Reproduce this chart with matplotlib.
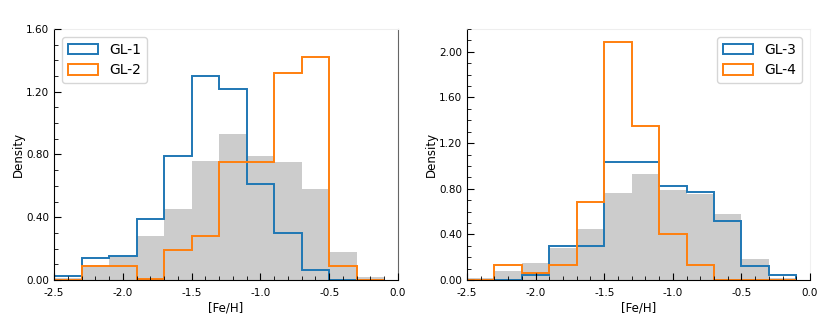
import numpy as np
import matplotlib
matplotlib.use('Agg')
import matplotlib.pyplot as plt
from matplotlib.ticker import MultipleLocator, FormatStrFormatter

plt.rcParams['axes.unicode_minus'] = False

edges = np.round(np.arange(-2.5, -0.09, 0.2), 2)
centers = (edges[:-1] + edges[1:]) / 2

# whole sample (grey, same in both panels)
all_stars = [0.015, 0.08, 0.15, 0.28, 0.45, 0.76, 0.93, 0.79, 0.75, 0.58, 0.18, 0.02]

gl1 = [0.025, 0.14, 0.15, 0.39, 0.79, 1.30, 1.22, 0.61, 0.30, 0.064, 0.0, 0.0]
gl2 = [0.0, 0.09, 0.09, 0.004, 0.19, 0.28, 0.75, 0.75, 1.32, 1.42, 0.09, 0.0]
gl3 = [0.0, 0.0, 0.04, 0.30, 0.30, 1.03, 1.03, 0.82, 0.77, 0.52, 0.12, 0.04]
gl4 = [0.0, 0.135, 0.065, 0.135, 0.68, 2.09, 1.35, 0.40, 0.135, 0.0, 0.0, 0.0]

fig = plt.figure(figsize=(8.3, 3.26), dpi=100)
ax1 = fig.add_axes([54 / 830, 46 / 326, 344 / 830, 251 / 326])
ax2 = fig.add_axes([467 / 830, 46 / 326, 343 / 830, 251 / 326])

panels = [(ax1, gl1, gl2, 'GL-1', 'GL-2', 1.6, 'upper left', '#666666'),
          (ax2, gl3, gl4, 'GL-3', 'GL-4', 2.2, 'upper right', '#f0f0f0')]

for ax, a, b, la, lb, ytop, loc, rcol in panels:
    ax.hist(centers, bins=edges, weights=all_stars, color='#cccccc', zorder=1)
    ax.hist(centers, bins=edges, weights=a, histtype='step', color='#1f77b4',
            lw=1.4, label=la, zorder=2)
    ax.hist(centers, bins=edges, weights=b, histtype='step', color='#ff7f0e',
            lw=1.4, label=lb, zorder=2)
    ax.set_xlim(-2.5, 0.0)
    ax.set_ylim(0, ytop)
    ax.xaxis.set_major_locator(MultipleLocator(0.5))
    ax.xaxis.set_minor_locator(MultipleLocator(0.1))
    ax.yaxis.set_major_locator(MultipleLocator(0.4))
    ax.yaxis.set_minor_locator(MultipleLocator(0.1))
    ax.xaxis.set_major_formatter(FormatStrFormatter('%.1f'))
    ax.yaxis.set_major_formatter(FormatStrFormatter('%.2f'))
    ax.tick_params(which='both', direction='in', labelsize=7.5, color='black')
    ax.tick_params(which='major', length=5)
    ax.tick_params(which='minor', length=3)
    ax.tick_params(axis='x', which='major', pad=6)
    ax.set_axisbelow(False)
    ax.spines['top'].set_color('#eeeeee')
    ax.spines['right'].set_color(rcol)
    ax.set_xlabel('[Fe/H]', fontsize=8.5, labelpad=2)
    ax.set_ylabel('Density', fontsize=8.5, labelpad=1)
    ax.legend(loc=loc, fontsize=10, handlelength=2.2, handleheight=0.8,
              borderaxespad=0.6, labelspacing=0.45)

fig.savefig('out.png', dpi=100)
